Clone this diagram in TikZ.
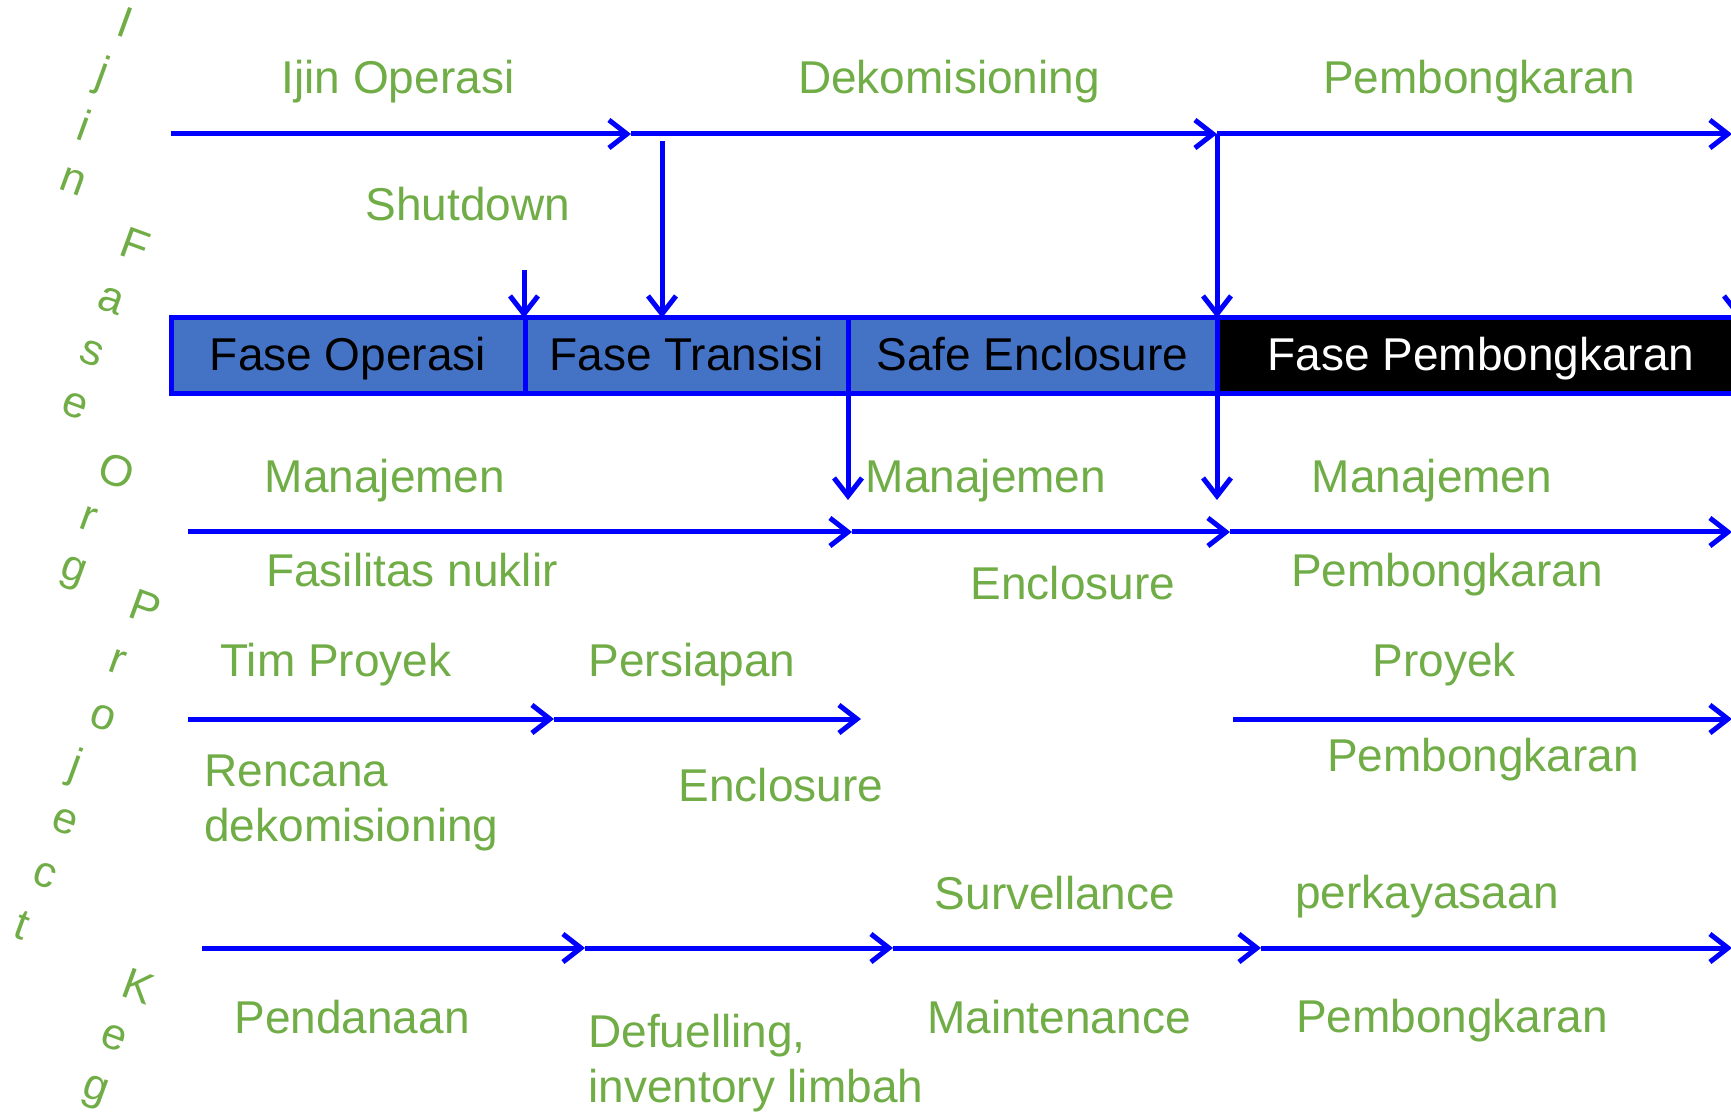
\documentclass[tikz,border=0pt]{standalone}
\usepackage{fontspec}
\setmainfont{Liberation Sans}
\usetikzlibrary{arrows.meta,positioning}
\definecolor{lblgreen}{HTML}{70AD47}
\definecolor{cellblue}{HTML}{4472C4}

\begin{document}
\begin{tikzpicture}[x=0.5pt,y=-0.5pt,>={Straight Barb[length=9pt,width=14pt]},
    flow/.style={->,color=blue,line width=2.5pt},
    lbl/.style={text=lblgreen,font=\fontsize{23}{27.5}\selectfont,inner sep=0pt},
    cell/.style={draw=blue,line width=2.5pt,fill=cellblue,minimum height=38pt,inner sep=0pt,outer sep=0pt,text height=17pt,text depth=2pt,font=\fontsize{23}{27.5}\selectfont},
    vlet/.style={text=lblgreen,font=\fontsize{22}{26}\selectfont,rotate=-20,inner sep=0pt}]

                \clip (0,0) rectangle (1731,1112);

                % phase bar
                \node[cell,minimum width=177pt] (fo) at (348,356) {Fase Operasi};

                \node[cell,minimum width=161.5pt] (ft) at (686.5,356) {Fase Transisi};

                \node[cell,minimum width=184.5pt] (fs) at (1032.5,356) {Safe Enclosure};

                \node[cell,minimum width=264pt,fill=black,text=white] (fp) at (1481,356) {Fase Pembongkaran};

                

                % row end points
                \coordinate (t0) at (171,134);
                \coordinate (t1) at (631,134);
                \coordinate (t2) at (1217,134);
                \coordinate (t3) at (1732,134);

                \coordinate (m0) at (188,532);
                \coordinate (m1) at (852,532);
                \coordinate (m2) at (1230,532);
                \coordinate (m3) at (1732,532);

                \coordinate (p0) at (188,719);
                \coordinate (p1) at (554,719);
                \coordinate (p2) at (861,719);
                \coordinate (p3) at (1233,719);
                \coordinate (p4) at (1732,719);

                \coordinate (k0) at (202,948);
                \coordinate (k1) at (585,948);
                \coordinate (k2) at (893,948);
                \coordinate (k3) at (1261,948);
                \coordinate (k4) at (1732,948);

                \coordinate (sd) at (524,270);
                \coordinate (d1) at (662,141);
                \coordinate (e1) at (848,500);
                \coordinate (r0) at (1738,134);

                

                \foreach \from/\to in {t0/t1, t1/t2, t2/t3, m0/m1, m1/m2, m2/m3, p0/p1, p1/p2, p3/p4, k0/k1, k1/k2, k2/k3, k3/k4}
                    {
                    \path[flow] (\from) edge (\to);
                    }

                \path[flow] (sd) edge (sd |- fo.north);

                \path[flow] (d1) edge (d1 |- ft.north);

                \path[flow] (t2) edge (t2 |- fs.north);

                \path[flow] (r0) edge (r0 |- fp.north);

                \path[flow] (fs.south west) edge (fs.south west |- e1);

                \path[flow] (fs.south east) edge (fs.south east |- e1);

                

                % labels
                \node[lbl] (ijin) at (398,82) {Ijin Operasi};

                \node[lbl] (dekom) at (949,82) {Dekomisioning};

                \node[lbl] (pemb1) at (1479,82) {Pembongkaran};

                \node[lbl] (shut) at (468,204) {Shutdown};

                \node[lbl] (man1) at (385,481) {Manajemen};

                \node[lbl] (fas) at (412,570) {Fasilitas nuklir};

                \node[lbl] (man2) at (986,481) {Manajemen};

                \node[lbl] (encl1) at (1073,583) {Enclosure};

                \node[lbl] (man3) at (1432,481) {Manajemen};

                \node[lbl] (pemb2) at (1447,575) {Pembongkaran};

                \node[lbl] (tim) at (336,665) {Tim Proyek};

                \node[lbl] (pers) at (692,665) {Persiapan};

                \node[lbl] (proy) at (1444,665) {Proyek};

                \node[lbl,align=left,anchor=west] (renc) at (204,803) {Rencana\\dekomisioning};

                \node[lbl] (encl2) at (781,785) {Enclosure};

                \node[lbl] (pemb3) at (1483,760) {Pembongkaran};

                \node[lbl] (surv) at (1055,893) {Survellance};

                \node[lbl] (perk) at (1427,897) {perkayasaan};

                \node[lbl] (pend) at (352,1017) {Pendanaan};

                \node[lbl,align=left,anchor=west] (def) at (588,1063) {Defuelling,\\inventory limbah};

                \node[lbl] (maint) at (1059,1017) {Maintenance};

                \node[lbl] (pemb4) at (1452,1021) {Pembongkaran};

                

                % side letters
                \foreach \ch/\x/\y [count=\i] in {I/125/22, j/102/75, i/85/125, n/73/182, F/135/245, a/111/301, s/92/353, e/75/406, O/117/471, r/88/519, g/72/574, P/145/607, r/117/662, o/103/718, j/75/767, e/65/822, c/45/875, t/22/925, K/138/986, e/114/1038, g/94/1093}
                    {
                    \node[vlet] (v\i) at (\x,\y) {\ch};
                    }

            \end{tikzpicture}
\end{document}
